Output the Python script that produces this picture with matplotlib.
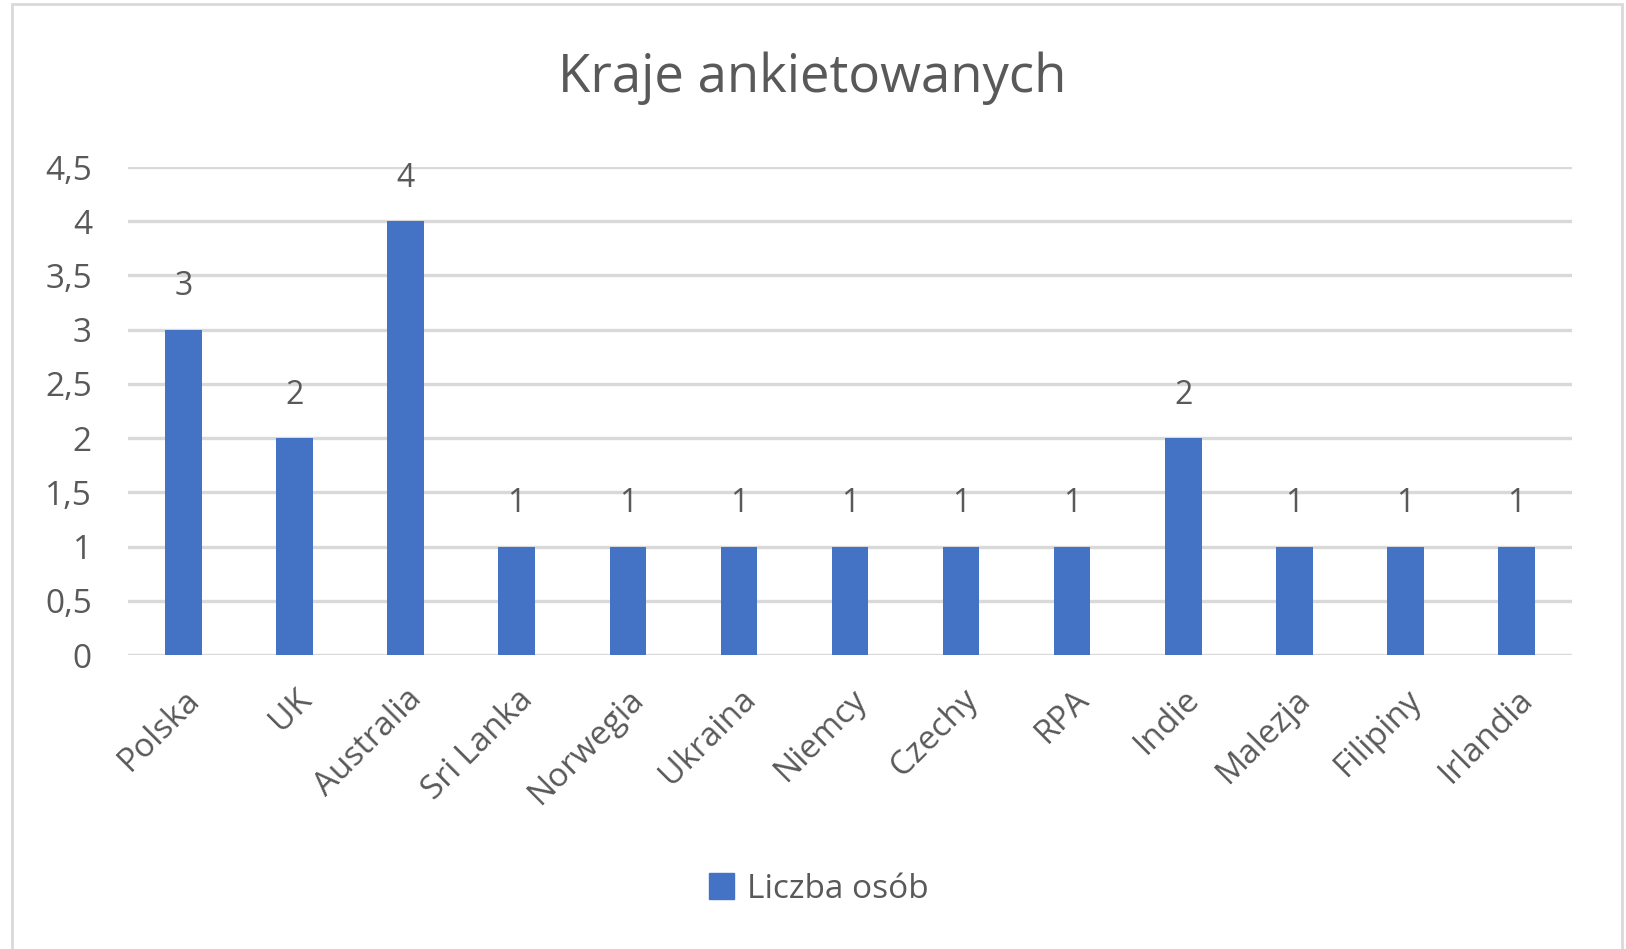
import matplotlib.pyplot as plt
from matplotlib.patches import Rectangle, Patch
import numpy as np

plt.rcParams["font.family"] = ["Open Sans", "DejaVu Sans"]

countries = ["Polska", "UK", "Australia", "Sri Lanka", "Norwegia", "Ukraina",
             "Niemcy", "Czechy", "RPA", "Indie", "Malezja", "Filipiny", "Irlandia"]
counts = [3, 2, 4, 1, 1, 1, 1, 1, 1, 2, 1, 1, 1]
y_ticks = [0, 0.5, 1, 1.5, 2, 2.5, 3, 3.5, 4, 4.5]
y_tick_labels = ["0", "0,5", "1", "1,5", "2", "2,5", "3", "3,5", "4", "4,5"]

text_color = "#595959"
bar_color = "#4472C4"
grid_color = "#D9D9D9"

W, H = 1626, 949
fig = plt.figure(figsize=(W / 100, H / 100), dpi=100)

# chart frame
fig.patches.append(Rectangle((12 / W, -0.01), (1622 - 12) / W, 1 - 4 / H + 0.01,
                             transform=fig.transFigure, fill=False,
                             ec="#D9D9D9", lw=2))

left, right, top, bottom = 128, 1572, 167, 655
ax = fig.add_axes([left / W, 1 - bottom / H, (right - left) / W, (bottom - top) / H])

x = np.arange(len(countries))
bars = ax.bar(x, counts, width=0.33, color=bar_color, zorder=3)

for xi, v in zip(x, counts):
    ax.annotate(str(v), (xi, v), xytext=(0, 19), textcoords="offset points",
                ha="center", va="bottom", fontsize=23, color=text_color)

ax.set_xlim(-0.5, len(countries) - 0.5)
ax.set_ylim(0, 4.5)
ax.set_yticks(y_ticks)
ax.set_yticklabels(y_tick_labels, fontsize=24, color=text_color)
ax.set_xticks(x)
ax.set_xticklabels(countries, rotation=45, ha="right", rotation_mode="anchor",
                   fontsize=24, color=text_color)
ax.tick_params(axis="y", length=0, pad=26)
ax.tick_params(axis="x", length=0, pad=20)

ax.grid(axis="y", color=grid_color, lw=2.4, zorder=0)
ax.set_axisbelow(True)
for s in ax.spines.values():
    s.set_visible(False)

fig.text(812 / W, 1 - 78 / H, "Kraje ankietowanych", ha="center", va="center",
         fontsize=38, color=text_color)

fig.legend(handles=[Patch(color=bar_color, label="Liczba osób")],
           loc="center", bbox_to_anchor=(819 / W, 1 - 889 / H), frameon=False,
           fontsize=24, handlelength=0.75, handleheight=0.8, handletextpad=0.4,
           labelcolor=text_color)

fig.savefig("out.png", dpi=100)
